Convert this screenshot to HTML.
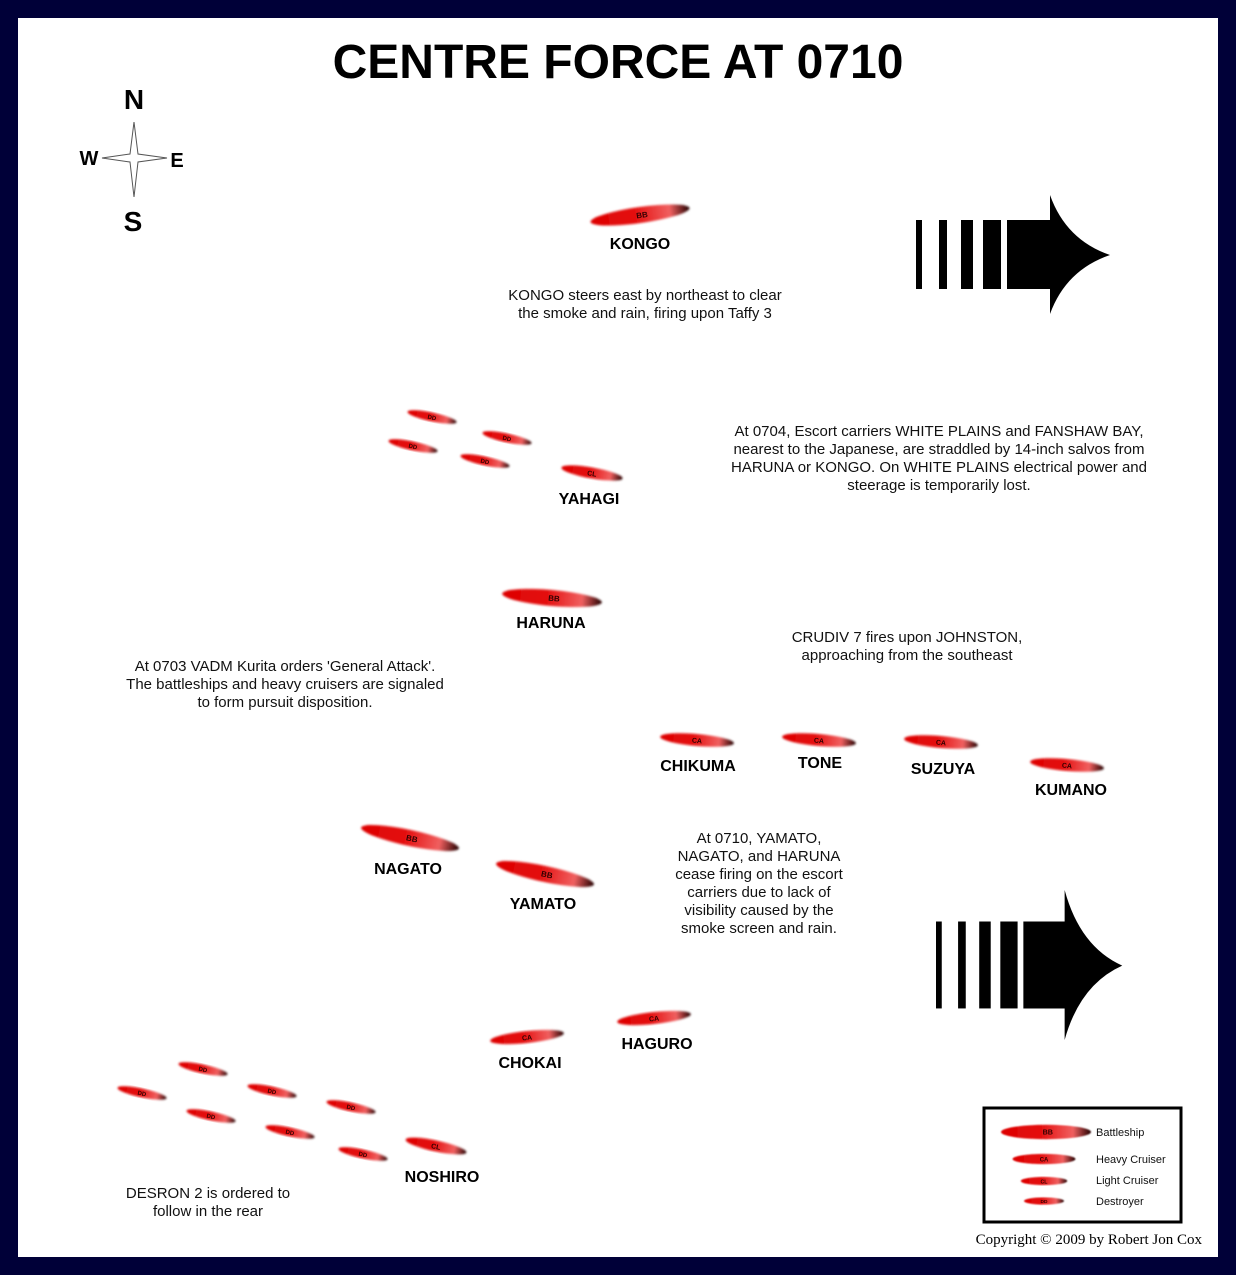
<!DOCTYPE html>
<html><head><style>
html,body{margin:0;padding:0;background:#000038;}
svg{display:block;font-family:"Liberation Sans",sans-serif;}
</style></head><body>
<svg width="1236" height="1275" viewBox="0 0 1236 1275" xmlns="http://www.w3.org/2000/svg">
<defs>
<linearGradient id="rg" x1="0" x2="1" y1="0" y2="0">
<stop offset="0" stop-color="#d00"/><stop offset="0.45" stop-color="#e41010"/><stop offset="0.8" stop-color="#f06060"/><stop offset="1" stop-color="#200"/>
</linearGradient>
<filter id="bl"><feGaussianBlur stdDeviation="1"/></filter>
<g id="BB"><ellipse cx="0" cy="0" rx="50" ry="8" fill="url(#rg)" filter="url(#bl)"/><text x="2" y="3" font-size="8" font-weight="bold" text-anchor="middle" fill="#300">BB</text></g>
<g id="CA"><ellipse cx="0" cy="0" rx="37" ry="6" fill="url(#rg)" filter="url(#bl)"/><text x="0" y="3" font-size="7" font-weight="bold" text-anchor="middle" fill="#300">CA</text></g>
<g id="CL"><ellipse cx="0" cy="0" rx="31" ry="5.5" fill="url(#rg)" filter="url(#bl)"/><text x="0" y="3" font-size="7" font-weight="bold" text-anchor="middle" fill="#300">CL</text></g>
<g id="DD"><ellipse cx="0" cy="0" rx="25" ry="4.5" fill="url(#rg)" filter="url(#bl)"/><text x="0" y="2.5" font-size="6" font-weight="bold" text-anchor="middle" fill="#300">DD</text></g>
<g id="AR">
<rect x="0" y="25" width="6" height="69"/><rect x="23" y="25" width="8" height="69"/><rect x="45" y="25" width="12" height="69"/><rect x="67" y="25" width="18" height="69"/>
<path d="M91 25 H134 V0 Q150 45 194 60 Q150 75 134 119 V94 H91 Z"/>
</g>
</defs>
<rect x="18" y="18" width="1200" height="1239" fill="#fff"/>
<text x="618" y="78" font-size="48" font-weight="bold" text-anchor="middle">CENTRE FORCE AT 0710</text>
<g font-weight="bold" font-size="28" text-anchor="middle">
<text x="134" y="109">N</text><text x="133" y="231">S</text>
</g>
<g font-weight="bold" font-size="20" text-anchor="middle"><text x="89" y="165">W</text><text x="177" y="167">E</text></g>
<path d="M134 122 L138 154 L167 158 L138 162 L134 197 L130 162 L102 158 L130 154 Z" fill="#fff" stroke="#555" stroke-width="1"/>
<use href="#AR" transform="translate(916,195)"/>
<use href="#AR" transform="translate(936,890) scale(0.96,1.26)"/>
<use href="#BB" transform="translate(640,215) rotate(-8)"/>
<use href="#DD" transform="translate(432,417) rotate(12)"/>
<use href="#DD" transform="translate(507,438) rotate(12)"/>
<use href="#DD" transform="translate(413,446) rotate(12)"/>
<use href="#DD" transform="translate(485,461) rotate(12)"/>
<use href="#CL" transform="translate(592,473) rotate(10)"/>
<use href="#BB" transform="translate(552,598) rotate(5)"/>
<use href="#CA" transform="translate(697,740) rotate(5)"/>
<use href="#CA" transform="translate(819,740) rotate(5)"/>
<use href="#CA" transform="translate(941,742) rotate(5)"/>
<use href="#CA" transform="translate(1067,765) rotate(5)"/>
<use href="#BB" transform="translate(410,838) rotate(12)"/>
<use href="#BB" transform="translate(545,874) rotate(12)"/>
<use href="#CA" transform="translate(527,1037) rotate(-6)"/>
<use href="#CA" transform="translate(654,1018) rotate(-6)"/>
<use href="#DD" transform="translate(203,1069) rotate(12)"/>
<use href="#DD" transform="translate(142,1093) rotate(12)"/>
<use href="#DD" transform="translate(272,1091) rotate(12)"/>
<use href="#DD" transform="translate(351,1107) rotate(12)"/>
<use href="#DD" transform="translate(211,1116) rotate(12)"/>
<use href="#DD" transform="translate(290,1132) rotate(12)"/>
<use href="#DD" transform="translate(363,1154) rotate(12)"/>
<use href="#CL" transform="translate(436,1146) rotate(12)"/>
<g font-weight="bold" font-size="16" text-anchor="middle">
<text x="640" y="249">KONGO</text>
<text x="589" y="504">YAHAGI</text>
<text x="551" y="628">HARUNA</text>
<text x="698" y="771">CHIKUMA</text>
<text x="820" y="768">TONE</text>
<text x="943" y="774">SUZUYA</text>
<text x="1071" y="795">KUMANO</text>
<text x="408" y="874">NAGATO</text>
<text x="543" y="909">YAMATO</text>
<text x="530" y="1068">CHOKAI</text>
<text x="657" y="1049">HAGURO</text>
<text x="442" y="1182">NOSHIRO</text>
</g>
<g font-size="15" text-anchor="middle" fill="#111">
<text x="645" y="300">KONGO steers east by northeast to clear</text>
<text x="645" y="318">the smoke and rain, firing upon Taffy 3</text>
<text x="939" y="436">At 0704, Escort carriers WHITE PLAINS and FANSHAW BAY,</text>
<text x="939" y="454">nearest to the Japanese, are straddled by 14-inch salvos from</text>
<text x="939" y="472">HARUNA or KONGO.  On WHITE PLAINS electrical power and</text>
<text x="939" y="490">steerage is temporarily lost.</text>
<text x="907" y="642">CRUDIV 7 fires upon JOHNSTON,</text>
<text x="907" y="660">approaching from the southeast</text>
<text x="285" y="671">At 0703 VADM Kurita orders 'General Attack'.</text>
<text x="285" y="689">The battleships and heavy cruisers are signaled</text>
<text x="285" y="707">to form pursuit disposition.</text>
<text x="759" y="843">At 0710, YAMATO,</text>
<text x="759" y="861">NAGATO, and HARUNA</text>
<text x="759" y="879">cease firing on the escort</text>
<text x="759" y="897">carriers due to lack of</text>
<text x="759" y="915">visibility caused by the</text>
<text x="759" y="933">smoke screen and rain.</text>
<text x="208" y="1198">DESRON 2 is ordered to</text>
<text x="208" y="1216">follow in the rear</text>
</g>
<rect x="984" y="1108" width="197" height="114" fill="#fff" stroke="#000" stroke-width="3"/>
<use href="#BB" transform="translate(1046,1132) scale(0.9,0.9)"/>
<use href="#CA" transform="translate(1044,1159) scale(0.85,0.85)"/>
<use href="#CL" transform="translate(1044,1181) scale(0.75,0.75)"/>
<use href="#DD" transform="translate(1044,1201) scale(0.8,0.8)"/>
<g font-size="11" fill="#111">
<text x="1096" y="1136">Battleship</text>
<text x="1096" y="1163">Heavy Cruiser</text>
<text x="1096" y="1184">Light Cruiser</text>
<text x="1096" y="1205">Destroyer</text>
</g>
<text x="1202" y="1244" font-size="15" font-family="Liberation Serif,serif" text-anchor="end">Copyright © 2009 by Robert Jon Cox</text>
</svg>
</body></html>
